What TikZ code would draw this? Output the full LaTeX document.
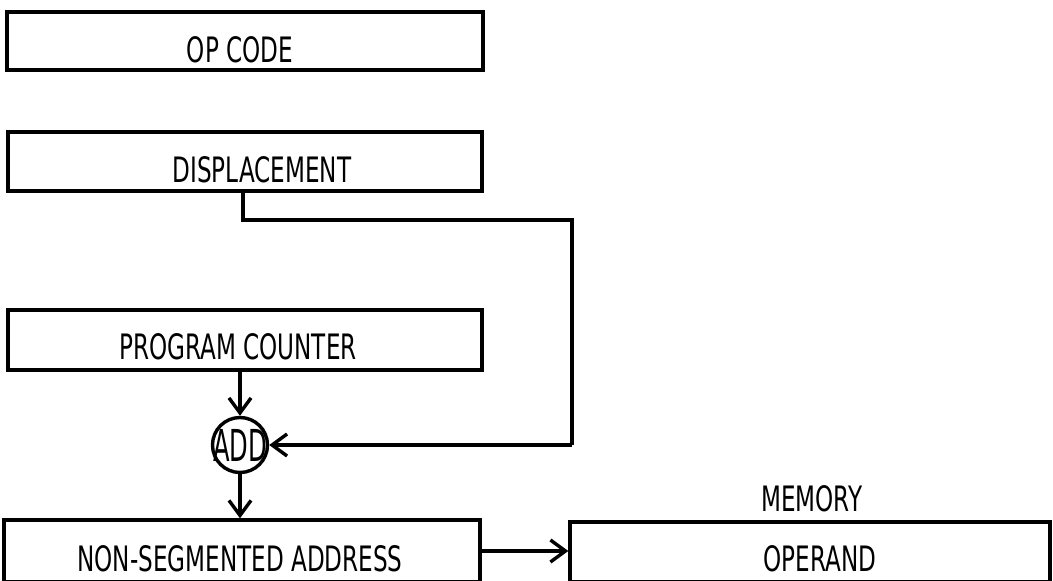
\documentclass[tikz,border=0pt]{standalone}
\usepackage{fontspec}
\setmainfont{DejaVu Sans}[FakeStretch=0.66]
\newfontfamily\addfont{DejaVu Sans}[FakeStretch=0.55]
\usetikzlibrary{arrows.meta}
\begin{document}
\begin{tikzpicture}[x=1pt,y=-1pt,
  reg/.style={draw, line width=3.4pt, rectangle, inner sep=0pt},
  lbl/.style={inner sep=0pt, font=\fontsize{35}{35}\selectfont},
  flow/.style={line width=3.4pt, -{Straight Barb[length=15pt,width=22pt]}},
  wire/.style={line width=3.4pt, line join=miter}]
\useasboundingbox (0,0) rectangle (1053,581);

% instruction fields
\node[reg, minimum width=476pt, minimum height=58pt] (op) at (245,41) {};
\node[lbl] (optext) at (240,50) {OP CODE};

\node[reg, minimum width=474pt, minimum height=59pt] (disp) at (245,161.5) {};
\node[lbl] (disptext) at (262,170) {DISPLACEMENT};

% program counter and adder
\node[reg, minimum width=474pt, minimum height=60pt] (pc) at (245,340) {};
\node[lbl] (pctext) at (238,347) {PROGRAM COUNTER};

\node[draw, circle, line width=3.4pt, minimum size=55pt, inner sep=0pt] (add) at (240,445) {};
\node[inner sep=0pt, font=\addfont\fontsize{44}{44}\selectfont] (addtext) at (add.center) {ADD};

% resulting address and memory operand
\node[reg, minimum width=476pt, minimum height=61.5pt] (ns) at (242,550.75) {};
\node[lbl] (nstext) at (240,559) {NON-SEGMENTED ADDRESS};

\node[reg, minimum width=480pt, minimum height=59.5pt] (mem) at (810,551.75) {};
\node[lbl] (memtext) at (820,559) {OPERAND};
\node[lbl] (memlabel) at (812,499) {MEMORY};

% connectors
\coordinate (bendA) at (243,220);
\coordinate (bendB) at (572,220);
\coordinate (bendC) at (572,445);
\draw[wire] ([xshift=-2pt]disp.south) -- (bendA) -- (bendB) -- (bendC);
\draw[flow] (bendC) -- (add.east);
\draw[flow] (pc.south -| add.north) -- (add.north);
\draw[flow] (add.south) -- (ns.north -| add.south);
\draw[flow] (ns.east |- 0,551) -- (mem.west |- 0,551);
\end{tikzpicture}
\end{document}
